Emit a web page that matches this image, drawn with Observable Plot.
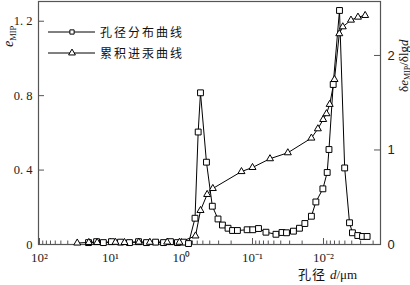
<!DOCTYPE html>
<html><head><meta charset="utf-8">
<script src="https://cdn.jsdelivr.net/npm/d3@7"></script>
<script src="https://cdn.jsdelivr.net/npm/@observablehq/plot@0.6"></script>
<style>
body{margin:0;background:#fff}
#chart{width:410px;height:285px}
</style>
</head><body><div id="chart"></div>
<script>
// pore-size distribution (squares), δe_MIP/δlgd – right axis
const distD = [20.4,15.7,12.6,9.68,7.23,5.40,4.03,3.11,2.32,1.79,1.43,1.14,0.937,0.797,
  0.645,0.582,0.540,0.445,0.368,0.306,0.265,0.221,0.191,0.163,0.119,0.0991,0.0823,0.0646,
  0.0467,0.0384,0.0332,0.0265,0.0218,0.0183,0.0148,0.0128,0.0102,0.00887,0.00837,0.00730,
  0.00595,0.00503,0.00430,0.00391,0.00329,0.00282,0.00243];
const distV = [0.02,0.03,0.02,0.03,0.025,0.02,0.03,0.02,0.025,0.02,0.03,0.02,0.025,0.01,
  0.278,1.19,1.605,0.871,0.405,0.270,0.206,0.172,0.148,0.148,0.156,0.156,0.169,0.130,
  0.108,0.127,0.124,0.141,0.172,0.222,0.299,0.450,0.589,0.762,1.005,1.693,
  2.476,0.810,0.230,0.124,0.095,0.085,0.085];
// cumulative intrusion (triangles), e_MIP – left axis
const cumD = [29.4,20.2,15.4,8.51,6.35,3.99,2.79,1.59,1.07,0.635,0.540,0.435,0.362,
  0.143,0.100,0.0567,0.0318,0.0148,0.0120,0.0101,0.00907,0.00818,0.00700,0.00599,
  0.00535,0.00410,0.00327,0.00259];
const cumV = [0.008,0.011,0.011,0.012,0.011,0.013,0.012,0.013,0.012,0.046,0.183,0.269,0.301,
  0.392,0.414,0.461,0.493,0.572,0.622,0.672,0.703,0.753,0.887,1.133,
  1.170,1.206,1.222,1.231];

const leftTicks = [0, 0.4, 0.8, 1.2];
const rightTicks = [0, 1, 2];
const xTicks = [100, 10, 1, 0.1, 0.01];
const xTickLabels = ["10²", "10¹", "10⁰", "10⁻¹", "10⁻²"];
const legendLabels = ["孔径分布曲线", "累积进汞曲线"];

const W = 410, H = 285, mL = 38, mR = 30, mT = 1, mB = 41;
const yMax = 1.306;               // left axis top
const rightMax = 2.571;           // right axis top
const conv = yMax / rightMax;     // right units -> left units
const fw = W - mL - mR, fh = H - mT - mB;

const dist = distD.map((d, i) => ({d, v: distV[i] * conv}));
const cum = cumD.map((d, i) => ({d, v: cumV[i]}));

const minor = [];
for (let e = -3; e <= 2; e++) for (let m = 2; m <= 9; m++) {
  const v = m * Math.pow(10, e);
  if (v < 103 && v > 0.00158) minor.push(v);
}
const axisColor = "#555";

const plot = Plot.plot({
  width: W, height: H,
  marginLeft: mL, marginRight: mR, marginTop: mT, marginBottom: mB,
  style: {fontFamily: "'Liberation Serif', serif", fontSize: "12px", background: "#fff", color: "#222"},
  x: {type: "log", domain: [103.3, 0.001574], label: null},
  y: {domain: [0, yMax], label: null},
  marks: [
    Plot.frame({stroke: axisColor, strokeWidth: 1.2}),
    Plot.tickX(xTicks, {x: d => d, insetTop: fh - 6, stroke: axisColor}),
    Plot.tickX(minor, {x: d => d, insetTop: fh - 3.5, stroke: axisColor}),
    Plot.tickY(leftTicks, {y: d => d, insetRight: fw - 6, stroke: axisColor}),
    Plot.tickY(rightTicks.map(v => v * conv), {y: d => d, insetLeft: fw - 6, stroke: axisColor}),
    Plot.axisX(xTicks, {tickSize: 0, tickPadding: 8, fontSize: 13, label: null,
      tickFormat: d => xTickLabels[xTicks.indexOf(d)]}),
    Plot.axisY(leftTicks, {tickSize: 0, tickPadding: 6, fontSize: 12.5, label: null,
      tickFormat: d => d === 0 ? "0" : d.toFixed(1).replace(".", ". ")}),
    Plot.axisY(rightTicks.map(v => v * conv), {anchor: "right", tickSize: 0, tickPadding: 7,
      fontSize: 13, fontFamily: "'Liberation Sans', sans-serif", label: null,
      tickFormat: d => String(Math.round(d / conv))}),
    Plot.line(dist, {x: "d", y: "v", stroke: "#000", strokeWidth: 1}),
    Plot.line(cum, {x: "d", y: "v", stroke: "#000", strokeWidth: 1}),
    Plot.dot(dist, {x: "d", y: "v", symbol: "square", r: 3.3, fill: "#fff", stroke: "#000", strokeWidth: 1}),
    Plot.dot(cum, {x: "d", y: "v", symbol: "triangle", r: 2.6, fill: "#fff", stroke: "#000", strokeWidth: 1})
  ]
});

const svg = d3.select(plot);
// legend
const legY = [32, 53];
const legSym = [d3.symbolSquare, d3.symbolTriangle];
const legSize = [18, 20];
legendLabels.forEach((lab, i) => {
  const g = svg.append("g");
  g.append("line").attr("x1", 48).attr("x2", 95).attr("y1", legY[i]).attr("y2", legY[i])
    .attr("stroke", "#000").attr("stroke-width", 1);
  g.append("path").attr("d", d3.symbol(legSym[i], legSize[i])())
    .attr("transform", `translate(72,${legY[i]})`).attr("fill", "#fff").attr("stroke", "#000");
  g.append("text").attr("x", 100).attr("y", legY[i] + 4.5).attr("text-anchor", "start")
    .attr("font-family", "'Noto Sans CJK SC', sans-serif").attr("font-size", 12)
    .attr("letter-spacing", 2).attr("fill", "#111").text(lab);
});
// left axis title e_MIP
const lt = svg.append("text").attr("transform", "translate(13,47) rotate(-90)").attr("text-anchor", "start")
  .attr("font-family", "'Liberation Serif', serif").attr("font-size", 14).attr("fill", "#111");
lt.append("tspan").attr("font-style", "italic").text("e");
lt.append("tspan").attr("font-size", 8.5).attr("dy", 3).text("MIP");
// right axis title δe_MIP/δlgd
const rt = svg.append("text").attr("transform", "translate(407.5,92) rotate(-90)").attr("text-anchor", "start")
  .attr("font-family", "'Liberation Serif', serif").attr("font-size", 13).attr("fill", "#111");
rt.append("tspan").text("δ");
rt.append("tspan").attr("font-style", "italic").text("e");
rt.append("tspan").attr("font-size", 8).attr("dy", 2).text("MIP");
rt.append("tspan").attr("dy", -2).text("/δlg");
rt.append("tspan").attr("font-style", "italic").text("d");
// x axis title
const xt = svg.append("text").attr("x", 298).attr("y", 279).attr("text-anchor", "start")
  .attr("font-family", "'Liberation Serif', 'Noto Sans CJK SC', serif").attr("font-size", 13).attr("fill", "#111");
xt.append("tspan").attr("font-family", "'Noto Sans CJK SC', sans-serif").attr("letter-spacing", 1).text("孔径 ");
xt.append("tspan").attr("font-style", "italic").text("d");
xt.append("tspan").text("/μm");

document.getElementById("chart").appendChild(plot);
</script>
</body></html>
